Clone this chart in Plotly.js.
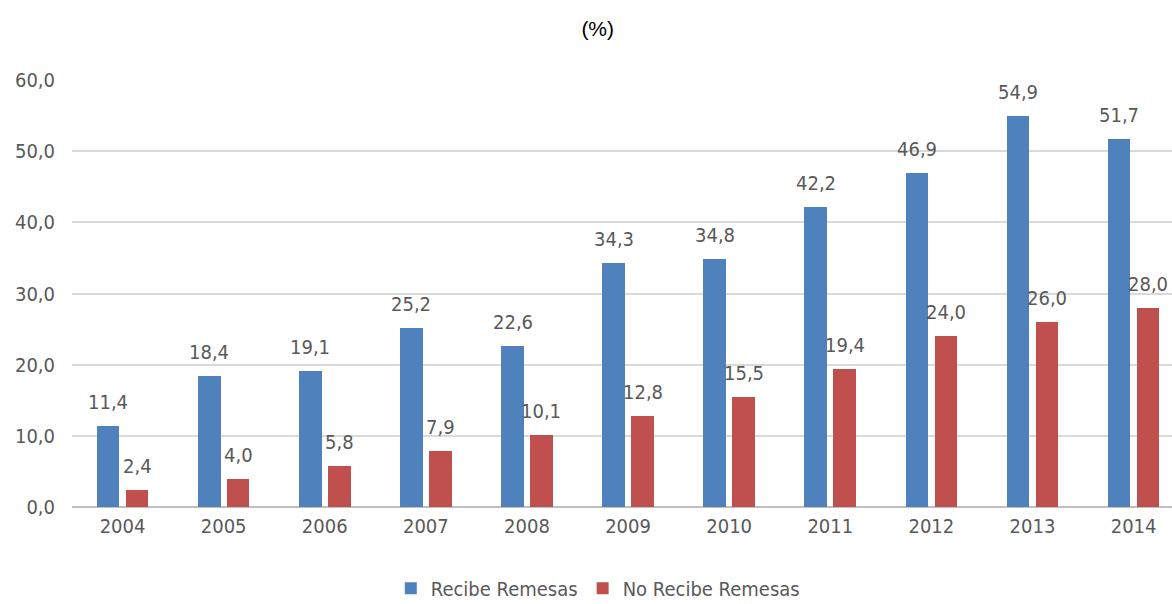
<!DOCTYPE html>
<html>
<head>
<meta charset="utf-8">
<script src="https://cdn.plot.ly/plotly-3.0.1.min.js"></script>
<style>html,body{margin:0;padding:0;background:#fff;}#chart{width:1172px;height:604px;}</style>
</head>
<body>
<div id="chart"></div>
<script>
const years = ["2004","2005","2006","2007","2008","2009","2010","2011","2012","2013","2014"];
const recibe = [11.4,18.4,19.1,25.2,22.6,34.3,34.8,42.2,46.9,54.9,51.7];
const noRecibe = [2.4,4.0,5.8,7.9,10.1,12.8,15.5,19.4,24.0,26.0,28.0];
const seriesNames = ["Recibe Remesas","No Recibe Remesas"];
const yTicks = [0,10,20,30,40,50,60];

const FONT = "'DejaVu Sans Condensed', 'Liberation Sans Narrow', sans-serif";
const TXT = "#595959";
const FS = 20;
const fmt = v => v.toFixed(1).replace(".", ",");

const BW = 0.224;
const traces = [
  {type:"bar", name:seriesNames[0], x:years, y:recibe, width:BW, offset:-0.255,
   marker:{color:"#4F81BD"}, hoverinfo:"none"},
  {type:"bar", name:seriesNames[1], x:years, y:noRecibe, width:BW, offset:0.031,
   marker:{color:"#C0504D"}, hoverinfo:"none"}
];

const annotations = [];
years.forEach((yr,i)=>{
  annotations.push({x:i-0.255+BW/2, y:recibe[i], xref:"x", yref:"y", text:fmt(recibe[i]),
    showarrow:false, yanchor:"bottom", yshift:10, font:{family:FONT,size:FS,color:TXT}});
  annotations.push({x:i+0.031+BW/2, y:noRecibe[i], xref:"x", yref:"y", text:fmt(noRecibe[i]),
    showarrow:false, yanchor:"bottom", yshift:10, font:{family:FONT,size:FS,color:TXT}});
});

const layout = {
  width:1172, height:604,
  margin:{l:72, r:0, t:80, b:97, autoexpand:false},
  paper_bgcolor:"#fff", plot_bgcolor:"#fff",
  title:{text:"(%)", x:0.51, xref:"container", y:0.953, yref:"container", yanchor:"middle",
    font:{family:"'Liberation Sans', Arial, sans-serif", size:21, color:"#000"}},
  showlegend:true,
  legend:{orientation:"h", x:0.478, xanchor:"center", xref:"paper", y:-0.19, yanchor:"middle", yref:"paper",
    font:{family:FONT, size:FS, color:TXT}, itemwidth:30, traceorder:"normal"},
  bargap:0, barmode:"overlay",
  xaxis:{type:"category", range:[-0.5,10.38], showgrid:false, zeroline:false, tickangle:0,
    showline:false, ticks:"", ticklabelstandoff:5, tickfont:{family:FONT,size:FS,color:TXT}},
  yaxis:{range:[0,60], tickvals:yTicks, ticktext:yTicks.map(fmt), showgrid:true, gridcolor:"#D9D9D9", gridwidth:2,
    zeroline:true, zerolinecolor:"#BFBFBF", zerolinewidth:2, showline:false, ticks:"",
    ticklabelstandoff:16, tickfont:{family:FONT,size:FS,color:TXT}},
  annotations:annotations
};

Plotly.newPlot("chart", traces, layout, {displayModeBar:false, staticPlot:true});
</script>
</body>
</html>
